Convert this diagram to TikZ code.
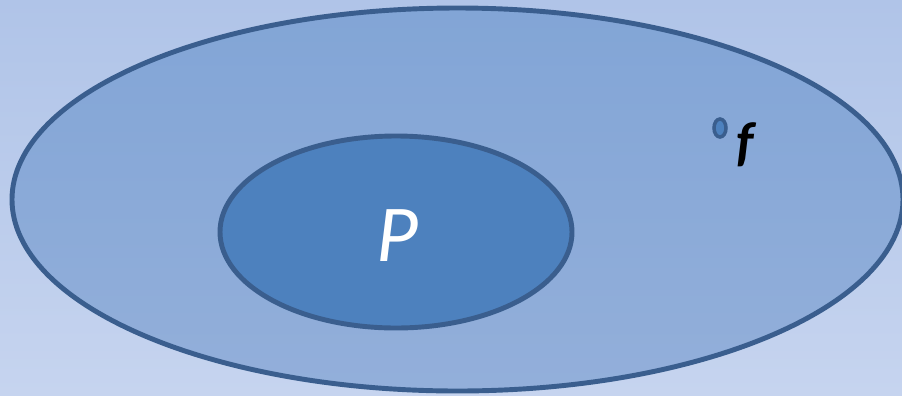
\documentclass[tikz,border=0pt]{standalone}
\usepackage{fontspec}
\setmainfont{Carlito}
\usepackage{xcolor}
\usetikzlibrary{shapes.geometric}

\definecolor{bgtop}{HTML}{B0C4E8}
\definecolor{bgbot}{HTML}{C6D4EF}
\definecolor{settop}{HTML}{82A5D6}
\definecolor{setbot}{HTML}{93AFDA}
\definecolor{setfill}{HTML}{4D81BE}
\definecolor{setline}{HTML}{3A5E8E}

\begin{document}
\begin{tikzpicture}[
    bigset/.style={ellipse, draw=setline, line width=2.8pt, top color=settop, bottom color=setbot, inner sep=0pt, minimum width=17.82cm, minimum height=7.66cm},
    subset/.style={ellipse, draw=setline, line width=2.8pt, fill=setfill, inner sep=0pt, minimum width=7.04cm, minimum height=3.84cm},
    point/.style={ellipse, draw=setline, line width=2pt, fill=setfill, inner sep=0pt, minimum width=0.24cm, minimum height=0.36cm}
]
\shade[top color=bgtop, bottom color=bgbot] (0,0) rectangle (18.04,-7.9);
\useasboundingbox (0,0) rectangle (18.04,-7.9);

\node[bigset] (all) at (9.15,-3.99) {};
\node[subset] (pset) at (7.92,-4.64) {};
\node[font=\fontsize{46}{46}\selectfont\itshape, text=white] (plabel) at (7.94,-4.72) {P};
\node[point] (fpoint) at (14.4,-2.56) {};
\node[font=\fontsize{31}{31}\selectfont\bfseries\itshape, anchor=base west] (flabel) at (14.6,-3.2) {f};
\end{tikzpicture}
\end{document}
